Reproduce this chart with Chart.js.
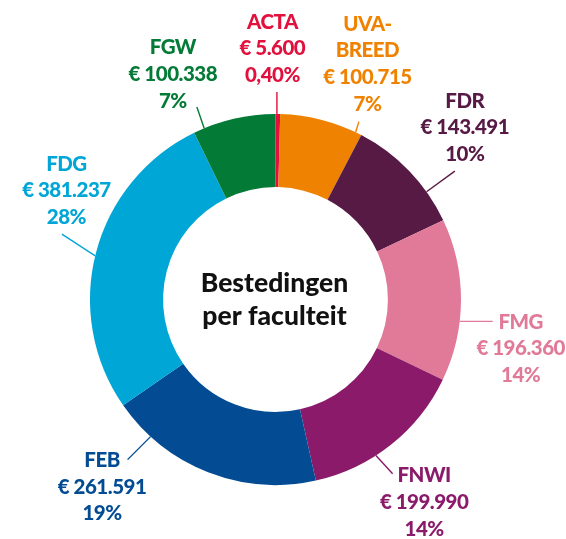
<!DOCTYPE html>
<html lang="nl">
<head>
<meta charset="utf-8">
<title>Bestedingen per faculteit</title>
<script src="https://cdn.jsdelivr.net/npm/chart.js@4.4.1/dist/chart.umd.min.js"></script>
<style>
  html, body { margin: 0; padding: 0; background: #fff; }
  #wrap { width: 566px; height: 539px; }
</style>
</head>
<body>
<div id="wrap"><canvas id="faculteitChart" width="566" height="539"></canvas></div>
<script>
// Data uit de figuur
const faculteiten = ["ACTA", "UVA-BREED", "FDR", "FMG", "FNWI", "FEB", "FDG", "FGW"];
const bedragen = [5600, 100715, 143491, 196360, 199990, 261591, 381237, 100338];
const percentages = ["0,40%", "7%", "10%", "14%", "14%", "19%", "28%", "7%"];

const kleuren = ["#e2103c", "#ef8200", "#571a45", "#e07a98", "#8b1a6b", "#034c94", "#00a6d6", "#037b36"];

// Positie van de labels: plek op de boog (t), lijntje (dx, dy), tekst t.o.v. eind van lijntje
const labelPos = [
  { t: 0.3, lijn: [0, -22], tekst: [-4.5, -70] },
  { t: 0.925, lijn: [3.3, -10.6], tekst: [8.5, -97.5] },
  { t: 0.725, lijn: [28.3, -20.7], tekst: [10, -70] },
  { t: 0.63, lijn: [33, 0], tekst: [28, 0.7] },
  { t: 0.61, lijn: [16.7, 18.3], tekst: [31.5, 2] },
  { t: 0.81, lijn: [-23, 23], tekst: [-25.5, 0.7] },
  { t: 0.49, lijn: [-33.3, -21.7], tekst: [4.5, -70] },
  { t: 0.13, lijn: [-7.3, -21.3], tekst: [-24, -59.3] },
];

const FONT = "Lato, 'Open Sans', sans-serif";
const REGEL = 26.7;

function formatEuro(n) {
  return "€ " + String(n).replace(/\B(?=(\d{3})+(?!\d))/g, ".");
}

// Labels met lijntjes + tekst in het midden
const labelPlugin = {
  id: "faculteitLabels",
  afterDraw(chart) {
    const ctx = chart.ctx;
    const meta = chart.getDatasetMeta(0);
    ctx.save();
    meta.data.forEach((arc, i) => {
      const p = arc.getProps(["x", "y", "startAngle", "endAngle", "outerRadius"], true);
      const pos = labelPos[i];
      const hoek = p.startAngle + pos.t * (p.endAngle - p.startAngle);
      const sx = p.x + p.outerRadius * Math.cos(hoek);
      const sy = p.y + p.outerRadius * Math.sin(hoek);
      const ex = sx + pos.lijn[0];
      const ey = sy + pos.lijn[1];

      ctx.strokeStyle = kleuren[i];
      ctx.lineWidth = 1.4;
      ctx.beginPath();
      ctx.moveTo(sx, sy);
      ctx.lineTo(ex, ey);
      ctx.stroke();

      const naam = faculteiten[i];
      const regels = naam.includes("-")
        ? [naam.slice(0, naam.indexOf("-") + 1), naam.slice(naam.indexOf("-") + 1)]
        : [naam];
      regels.push(formatEuro(bedragen[i]), percentages[i]);

      ctx.fillStyle = kleuren[i];
      ctx.font = "900 20.5px " + FONT;
      ctx.letterSpacing = "-0.5px";
      ctx.textAlign = "center";
      ctx.textBaseline = "middle";
      const tx = ex + pos.tekst[0];
      const ty = ey + pos.tekst[1];
      regels.forEach((r, j) => ctx.fillText(r, tx, ty + j * REGEL));
    });

    // titel in het midden
    const a = meta.data[0];
    ctx.fillStyle = "#111";
    ctx.font = "900 26.5px " + FONT;
    ctx.letterSpacing = "0px";
    ctx.textAlign = "center";
    ctx.textBaseline = "middle";
    ctx.fillText("Bestedingen", a.x - 1, a.y - 16.5);
    ctx.fillText("per faculteit", a.x - 1, a.y + 17);
    ctx.restore();
  },
};

const ctx = document.getElementById("faculteitChart").getContext("2d");
new Chart(ctx, {
  type: "doughnut",
  data: {
    labels: faculteiten,
    datasets: [
      {
        data: bedragen,
        backgroundColor: kleuren,
        borderWidth: 0,
      },
    ],
  },
  options: {
    responsive: false,
    animation: false,
    cutout: "60.6%",
    layout: {
      padding: { left: 90, right: 105, top: 114, bottom: 54 },
    },
    plugins: {
      legend: { display: false },
      tooltip: { enabled: false },
    },
  },
  plugins: [labelPlugin],
});
</script>
</body>
</html>
